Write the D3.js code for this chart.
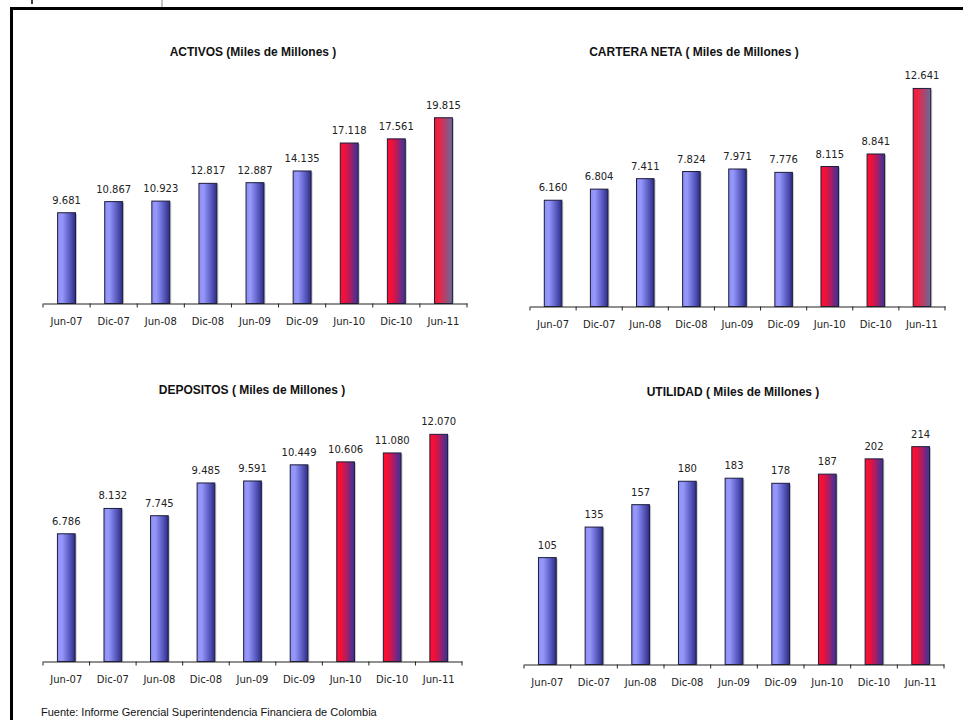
<!DOCTYPE html>

<head>
  <meta charset="utf-8" />
  <script src="https://d3js.org/d3.v7.min.js"></script>
  <style>
    body {
      margin: 0;
      background: #fff;
    }
    .titulo {
      font-family: "Liberation Sans", Arial, sans-serif;
      font-weight: bold;
      font-size: 12px;
      fill: #111;
    }
    .valor {
      font-family: "DejaVu Sans", sans-serif;
      font-size: 10px;
      fill: #222;
    }
    .fuente {
      font-family: "Liberation Sans", Arial, sans-serif;
      font-size: 11px;
      fill: #111;
    }
  </style>
</head>

<body>
  <script>

    // datos (miles de millones)
    var categorias = ["Jun-07", "Dic-07", "Jun-08", "Dic-08", "Jun-09", "Dic-09", "Jun-10", "Dic-10", "Jun-11"];
    var activos = [9681, 10867, 10923, 12817, 12887, 14135, 17118, 17561, 19815];
    var cartera = [6160, 6804, 7411, 7824, 7971, 7776, 8115, 8841, 12641];
    var depositos = [6786, 8132, 7745, 9485, 9591, 10449, 10606, 11080, 12070];
    var utilidad = [105, 135, 157, 180, 183, 178, 187, 202, 214];

    var width = 968,
      height = 720;

    var svg = d3
      .select("body")
      .append("svg")
      .attr("width", width)
      .attr("height", height);

    // formato con punto de miles
    var es = d3.formatLocale({ decimal: ",", thousands: ".", grouping: [3], currency: ["$", ""] });
    var fmt = es.format(",d");

    // degradados de las barras
    var defs = svg.append("defs");
    function degradado(id, stops) {
      var lg = defs.append("linearGradient").attr("id", id)
        .attr("x1", "0%").attr("x2", "100%").attr("y1", "0%").attr("y2", "0%");
      stops.forEach(function (s) {
        lg.append("stop").attr("offset", s[0]).attr("stop-color", s[1]);
      });
    }
    degradado("azul", [["0%", "#8e90f4"], ["25%", "#9698fb"], ["60%", "#6466cc"], ["100%", "#2c2c86"]]);
    degradado("rojo", [["0%", "#ff1030"], ["25%", "#f01038"], ["55%", "#b01c60"], ["85%", "#5a2c8c"], ["100%", "#40308f"]]);
    degradado("rojogris", [["0%", "#fa1530"], ["30%", "#e5284a"], ["70%", "#9a4e78"], ["100%", "#6c6a9c"]]);

    var paneles = [
      { titulo: "ACTIVOS (Miles de Millones )", valores: activos, x0: 43, x1: 467, base: 303.5, techo: 116, max: 20000, tx: 253, ty: 56, ultimoGris: true },
      { titulo: "CARTERA NETA ( Miles de Millones )", valores: cartera, x0: 530, x1: 945, base: 306.5, techo: 65, max: 14000, tx: 694, ty: 56, ultimoGris: true },
      { titulo: "DEPOSITOS ( Miles de Millones )", valores: depositos, x0: 43, x1: 462, base: 661.5, techo: 398, max: 14000, tx: 252, ty: 394, ultimoGris: false },
      { titulo: "UTILIDAD ( Miles de Millones )", valores: utilidad, x0: 524, x1: 944, base: 664.5, techo: 410, max: 250, tx: 733, ty: 396, ultimoGris: false }
    ];

    function relleno(p, i) {
      if (i < 6) return "url(#azul)";
      if (p.ultimoGris && i == categorias.length - 1) return "url(#rojogris)";
      return "url(#rojo)";
    }

    paneles.forEach(function (p) {
      var g = svg.append("g");

      var x = d3.scaleBand().domain(categorias).range([p.x0, p.x1])
        .paddingInner(0.62).paddingOuter(0.31);
      var y = d3.scaleLinear().domain([0, p.max]).range([p.base, p.techo]);

      var datos = p.valores.map(function (v, i) { return { cat: categorias[i], v: v, i: i }; });

      g.append("text").attr("class", "titulo")
        .attr("x", p.tx).attr("y", p.ty)
        .attr("text-anchor", "middle")
        .text(p.titulo);

      // sombra
      g.selectAll("rect.sombra").data(datos).join("rect")
        .attr("class", "sombra")
        .attr("x", function (d) { return x(d.cat) + 1.5; })
        .attr("y", function (d) { return y(d.v) + 1; })
        .attr("width", x.bandwidth())
        .attr("height", function (d) { return p.base - y(d.v) - 1; })
        .attr("fill", "#c8c8c8");

      g.selectAll("rect.barra").data(datos).join("rect")
        .attr("class", "barra")
        .attr("x", function (d) { return x(d.cat); })
        .attr("y", function (d) { return y(d.v); })
        .attr("width", x.bandwidth())
        .attr("height", function (d) { return p.base - y(d.v); })
        .attr("fill", function (d) { return relleno(p, d.i); })
        .attr("stroke", "#1c1c3a")
        .attr("stroke-width", 1);

      g.selectAll("text.valor").data(datos).join("text")
        .attr("class", "valor")
        .attr("x", function (d) { return x(d.cat) + x.bandwidth() / 2; })
        .attr("y", function (d) { return y(d.v) - 9; })
        .attr("text-anchor", "middle")
        .text(function (d) { return fmt(d.v); });

      // eje
      var eje = g.append("g")
        .attr("transform", "translate(0," + p.base + ")")
        .call(d3.axisBottom(x).tickSize(0).tickPadding(14));
      eje.select(".domain").attr("stroke", "#222").attr("stroke-width", 1.2);
      eje.selectAll("text")
        .attr("font-family", "DejaVu Sans, sans-serif")
        .attr("font-size", 10)
        .attr("fill", "#222");

      // marcas entre categorias
      eje.selectAll("line.marca").data(d3.range(categorias.length + 1)).join("line")
        .attr("class", "marca")
        .attr("x1", function (k) { return p.x0 + k * x.step(); })
        .attr("x2", function (k) { return p.x0 + k * x.step(); })
        .attr("y1", 0).attr("y2", 4)
        .attr("stroke", "#222");
    });

    // marco
    svg.append("line").attr("x1", 11.5).attr("x2", 11.5).attr("y1", 7).attr("y2", height)
      .attr("stroke", "#000").attr("stroke-width", 3);
    svg.append("line").attr("x1", 10).attr("x2", 963).attr("y1", 8.5).attr("y2", 8.5)
      .attr("stroke", "#000").attr("stroke-width", 3);
    svg.append("line").attr("x1", 32).attr("x2", 32).attr("y1", 0).attr("y2", 4)
      .attr("stroke", "#000").attr("stroke-width", 1.5);
    svg.append("line").attr("x1", 162).attr("x2", 162).attr("y1", 0).attr("y2", 7)
      .attr("stroke", "#888").attr("stroke-width", 1);

    svg.append("text").attr("class", "fuente")
      .attr("x", 41).attr("y", 716)
      .text("Fuente: Informe Gerencial Superintendencia Financiera de Colombia");

  </script>
</body>
